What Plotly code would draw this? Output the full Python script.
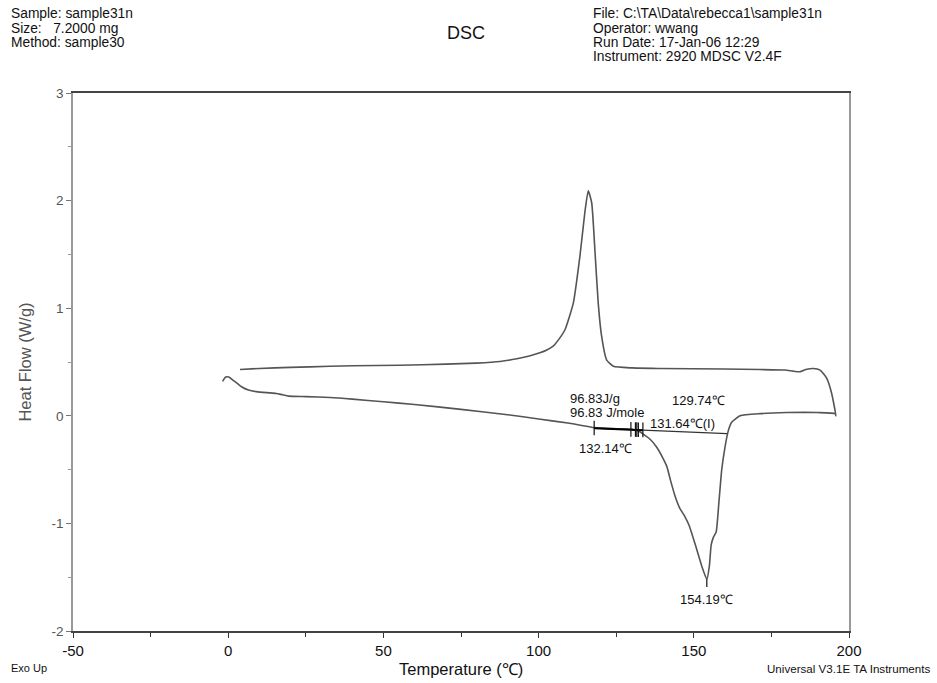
import plotly.graph_objects as go

# Heat flow trace: heating run (-2 -> 196 C) followed by the cooling run back to ~4 C
heat_T = [-1.8, -0.8, 0.2, 1.6, 3.0, 4.3, 6.5, 9.0, 12.4, 15.5, 17.5, 19.5, 25.0, 32.8, 40.0,
          50.0, 60.0, 75.0, 90.0, 100.0, 110.0, 118.0, 125.0, 130.0, 132.0, 133.7, 136.0,
          138.0, 140.0, 141.3, 142.5, 144.0, 145.5, 147.0, 148.5, 150.4, 152.6, 154.2,
          155.0, 155.6, 156.3, 157.2, 158.1, 159.0, 160.0, 161.1, 162.2, 164.9, 171.3,
          180.0, 190.0, 195.5]
heat_HF = [0.32, 0.36, 0.36, 0.33, 0.30, 0.27, 0.24, 0.225, 0.215, 0.208, 0.195, 0.183, 0.178,
           0.17, 0.155, 0.13, 0.105, 0.06, 0.01, -0.03, -0.07, -0.11, -0.12, -0.125, -0.14,
           -0.17, -0.22, -0.29, -0.39, -0.47, -0.60, -0.75, -0.86, -0.93, -1.02, -1.19, -1.40,
           -1.52, -1.40, -1.20, -1.13, -1.08, -0.80, -0.50, -0.30, -0.14, -0.06, 0.0, 0.02,
           0.03, 0.03, 0.02]

cool_T = [195.8, 194.4, 192.8, 190.7, 188.5, 186.1, 184.2, 182.0, 179.4, 171.3, 160.0, 139.1,
          130.0, 124.1, 121.9, 120.3, 119.2, 118.2, 117.1, 116.0, 114.9, 113.3, 111.2, 108.5,
          106.5, 104.7, 102.5, 100.4, 97.0, 93.0, 87.6, 80.0, 70.0, 55.3, 40.0, 32.8, 20.0,
          10.0, 3.8]
cool_HF = [0.0, 0.21, 0.35, 0.425, 0.44, 0.43, 0.41, 0.415, 0.425, 0.43, 0.435, 0.44,
           0.445, 0.46, 0.52, 0.74, 1.05, 1.51, 1.98, 2.09, 1.89, 1.48, 1.05, 0.80,
           0.71, 0.647, 0.61, 0.586, 0.555, 0.53, 0.505, 0.49, 0.48, 0.47, 0.465, 0.46, 0.45,
           0.44, 0.43]

# Axis ticks
x_ticks = [-50, 0, 50, 100, 150, 200]
x_ticktext = ["-50", "0", "50", "100", "150", "200"]
y_ticks = [-2, -1, 0, 1, 2, 3]
y_ticktext = ["-2", "-1", "0", "1", "2", "3"]

# Melting-peak integration baseline
base_T = [118.0, 160.7]
base_HF = [-0.115, -0.165]
# Partial-area markers along the baseline
mark_T = [117.9, 129.74, 131.2, 131.64, 132.14, 133.6]
peak_T = 154.19
peak_HF = -1.52

enthalpy = "96.83J/g"
enthalpy_mole = "96.83 J/mole"
onset_label = "132.14℃"
partial_label = "129.74℃"
inflect_label = "131.64℃(I)"
peak_label = "154.19℃"

header_left = ["Sample: sample31n", "Size:   7.2000 mg", "Method: sample30"]
header_right = ["File: C:\\TA\\Data\\rebecca1\\sample31n", "Operator: wwang",
                "Run Date: 17-Jan-06 12:29", "Instrument: 2920 MDSC V2.4F"]

FONT = "Liberation Sans, Arial, sans-serif"
CURVE = "#555555"

fig = go.Figure()

fig.add_trace(go.Scatter(x=heat_T + cool_T, y=heat_HF + cool_HF, mode="lines",
                         line=dict(color=CURVE, width=1.6, shape="spline", smoothing=0.5),
                         hoverinfo="skip", showlegend=False))

# baseline
fig.add_trace(go.Scatter(x=base_T, y=base_HF, mode="lines",
                         line=dict(color="#333333", width=1.2),
                         hoverinfo="skip", showlegend=False))

def base_at(t):
    return base_HF[0] + (base_HF[1] - base_HF[0]) * (t - base_T[0]) / (base_T[1] - base_T[0])

# thick segment over the partial area region
seg_T = [mark_T[0], mark_T[-1]]
fig.add_trace(go.Scatter(x=seg_T, y=[base_at(t) for t in seg_T], mode="lines",
                         line=dict(color="#000000", width=2),
                         hoverinfo="skip", showlegend=False))

# vertical marker ticks
mx, my = [], []
for t in mark_T:
    b = base_at(t)
    mx += [t, t, None]
    my += [b + 0.07, b - 0.065, None]
mx += [peak_T, peak_T, None]
my += [peak_HF, peak_HF - 0.07, None]
fig.add_trace(go.Scatter(x=mx, y=my, mode="lines", line=dict(color="#111111", width=1.2),
                         hoverinfo="skip", showlegend=False))

ann_font = dict(family=FONT, size=13, color="#111111")
anns = [
    dict(x=109.6, y=0.16, text=enthalpy, xanchor="left"),
    dict(x=109.6, y=0.03, text=enthalpy_mole, xanchor="left"),
    dict(x=121.4, y=-0.30, text=onset_label, xanchor="center"),
    dict(x=151.4, y=0.14, text=partial_label, xanchor="center"),
    dict(x=135.3, y=-0.07, text=inflect_label, xanchor="left"),
    dict(x=peak_T, y=-1.71, text=peak_label, xanchor="center"),
]
for a in anns:
    fig.add_annotation(xref="x", yref="y", yanchor="middle", showarrow=False,
                       font=ann_font, **a)

# page header and footer text (paper coords: plot spans x 73..849, y 93..631 px)
def px(xp):
    return (xp - 73) / 776.0

def py(yp):
    return (631 - yp) / 538.0

hdr_font = dict(family=FONT, size=13.8, color="#111111")
for i, line in enumerate(header_left):
    fig.add_annotation(xref="paper", yref="paper", x=px(9), y=py(14 + 14 * i), text=line,
                       xanchor="left", yanchor="middle", showarrow=False, font=hdr_font)
for i, line in enumerate(header_right):
    fig.add_annotation(xref="paper", yref="paper", x=px(591), y=py(14 + 14 * i), text=line,
                       xanchor="left", yanchor="middle", showarrow=False, font=hdr_font)
fig.add_annotation(xref="paper", yref="paper", x=px(466), y=py(33), text="DSC",
                   xanchor="center", yanchor="middle", showarrow=False,
                   font=dict(family=FONT, size=18, color="#111111"))
fig.add_annotation(xref="paper", yref="paper", x=px(9), y=py(668), text="Exo Up",
                   xanchor="left", yanchor="middle", showarrow=False,
                   font=dict(family=FONT, size=11, color="#111111"))
fig.add_annotation(xref="paper", yref="paper", x=px(932), y=py(668),
                   text="Universal V3.1E TA Instruments",
                   xanchor="right", yanchor="middle", showarrow=False,
                   font=dict(family=FONT, size=11.6, color="#111111"))
fig.add_annotation(xref="paper", yref="paper", x=px(461), y=py(669), text="Temperature (℃)",
                   xanchor="center", yanchor="middle", showarrow=False,
                   font=dict(family=FONT, size=16.5, color="#111111"))

fig.update_xaxes(range=[-50, 200], tickmode="array", tickvals=x_ticks, ticktext=x_ticktext,
                 ticks="outside", ticklen=5, tickcolor="#333333", tickwidth=1,
                 showline=True, linecolor="#444444", linewidth=1.5, mirror=True,
                 showgrid=False, zeroline=False,
                 tickfont=dict(family=FONT, size=15, color="#111111"),
                 minor=dict(dtick=25, tick0=-50, ticks="outside", ticklen=4,
                            tickcolor="#333333", showgrid=False))
fig.update_yaxes(range=[-2, 3], tickmode="array", tickvals=y_ticks, ticktext=y_ticktext,
                 ticks="outside", ticklen=5, tickcolor="#777777", tickwidth=1,
                 showline=True, linecolor="#999999", linewidth=1.5, mirror=True,
                 showgrid=False, zeroline=False,
                 title=dict(text="Heat Flow (W/g)", standoff=16,
                            font=dict(family=FONT, size=16.5, color="#555555")),
                 tickfont=dict(family=FONT, size=13.5, color="#555555"),
                 minor=dict(dtick=0.5, tick0=-2, ticks="outside", ticklen=3,
                            tickcolor="#999999", showgrid=False))

fig.update_layout(width=937, height=683, margin=dict(l=73, r=88, t=93, b=52),
                  paper_bgcolor="white", plot_bgcolor="white",
                  font=dict(family=FONT), showlegend=False)

fig.write_html("out.html")
